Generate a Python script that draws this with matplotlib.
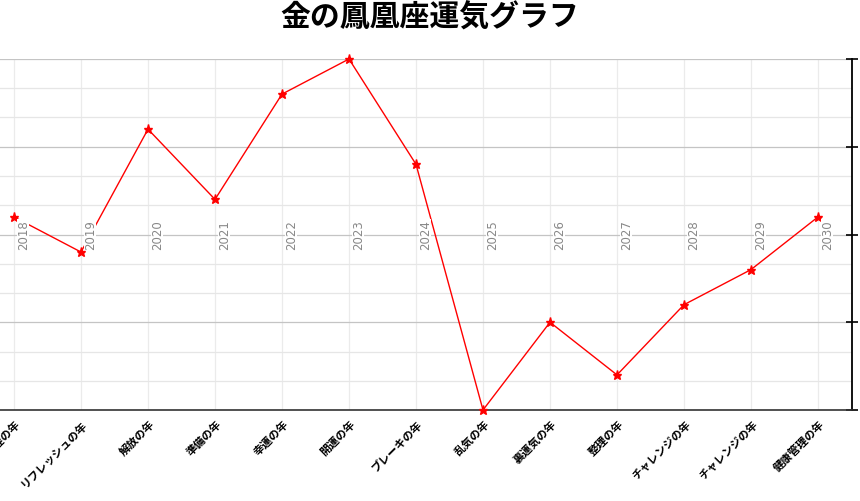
import matplotlib
matplotlib.use("Agg")
import matplotlib.pyplot as plt
from matplotlib.patches import Rectangle
from matplotlib.ticker import MultipleLocator

plt.rcParams['font.family'] = ['Noto Sans CJK JP', 'DejaVu Sans']

years = [2018, 2019, 2020, 2021, 2022, 2023, 2024, 2025, 2026, 2027, 2028, 2029, 2030]
categories = ["健康管理の年", "リフレッシュの年", "解放の年", "準備の年", "幸運の年", "開運の年",
              "ブレーキの年", "乱気の年", "裏運気の年", "整理の年", "チャレンジの年", "チャレンジの年",
              "健康管理の年"]
values = [1, -1, 6, 2, 8, 10, 4, -10, -5, -8, -4, -2, 1]

fig = plt.figure(figsize=(8.6, 5.02), dpi=100)
ax = fig.add_axes([0, 1-411/502, 852/860, (411-60)/502])

x = list(range(len(years)))
ax.plot(x, values, color='red', lw=1, marker='*', markersize=6.5, zorder=3, clip_on=False)

for xi, yr in zip(x, years):
    ax.add_patch(Rectangle((xi + 0.045, -0.85), 0.185, 1.75, facecolor='white',
                           edgecolor='none', zorder=3.5))
    ax.text(xi + 0.14, 0, str(yr), rotation=90, ha='center', va='center', fontsize=8.5,
            color='#888888', family=['DejaVu Sans'], zorder=4)

ax.set_xlim(-14/67, 12 + 34/67)
ax.set_ylim(-10, 10)
ax.set_xticks(x)
ax.set_xticklabels(categories, rotation=45, ha='right', rotation_mode='anchor',
                   fontsize=8, fontweight='bold')
ax.yaxis.set_major_locator(MultipleLocator(5))
ax.yaxis.set_minor_locator(MultipleLocator(5/3))
ax.grid(True, which='major', axis='y', color='#c4c4c4', lw=0.9)
ax.grid(True, which='minor', axis='y', color='#e6e6e6', lw=0.9)
ax.grid(True, which='major', axis='x', color='#ebebeb', lw=0.9)
ax.set_axisbelow(True)

ax.spines['top'].set_visible(False)
ax.spines['left'].set_visible(False)
ax.spines['bottom'].set_color('#333333')
ax.spines['bottom'].set_linewidth(1.2)
ax.spines['right'].set_color('black')
ax.spines['right'].set_linewidth(1.3)

ax.tick_params(axis='x', length=0, pad=5)
ax.tick_params(axis='y', which='major', left=False, right=True, labelleft=False,
               labelright=False, direction='inout', length=8, width=1.2, color='black')
ax.tick_params(axis='y', which='minor', left=False, right=False)

fig.text(0.5, 1-18/502, "金の鳳凰座運気グラフ", ha='center', va='center', fontsize=21.5,
         fontweight='bold')

fig.savefig("out.png", dpi=100)
